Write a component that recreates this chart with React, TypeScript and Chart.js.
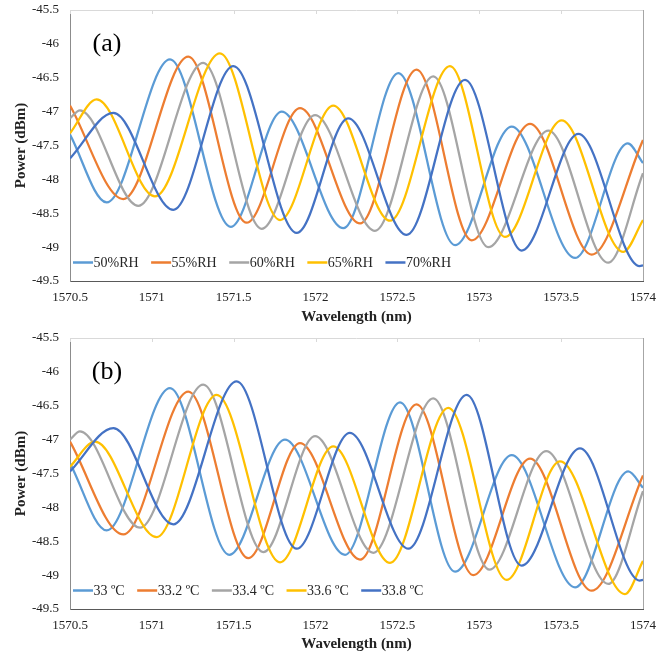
import React, { useEffect, useRef } from 'react';
import { Chart, registerables } from 'chart.js';

Chart.register(...registerables);

// ---- axes ----
const X_TICKS = [1570.5, 1571, 1571.5, 1572, 1572.5, 1573, 1573.5, 1574];
const Y_TICKS = [-45.5, -46, -46.5, -47, -47.5, -48, -48.5, -49, -49.5];

const SERIES_COLORS = ['#5B9BD5', '#ED7D31', '#A5A5A5', '#FFC000', '#4472C4'];

// ---- panel (a): humidity ----
const LABELS_A = ['50%RH', '55%RH', '60%RH', '65%RH', '70%RH'];
const RH50_X = [1570.5, 1570.724, 1571.111, 1571.482, 1571.793, 1572.17, 1572.506, 1572.852, 1573.198, 1573.585, 1573.907, 1574];
const RH50_Y = [-47.34, -48.34, -46.23, -48.7, -47.0, -48.72, -46.43, -48.97, -47.22, -49.16, -47.47, -47.76];
const RH55_X = [1570.5, 1570.826, 1571.223, 1571.579, 1571.905, 1572.272, 1572.617, 1572.954, 1573.31, 1573.687, 1574];
const RH55_Y = [-46.91, -48.29, -46.19, -48.64, -46.95, -48.65, -46.38, -48.9, -47.18, -49.11, -47.42];
const RH60_X = [1570.5, 1570.561, 1570.917, 1571.314, 1571.671, 1571.997, 1572.363, 1572.719, 1573.055, 1573.422, 1573.788, 1574];
const RH60_Y = [-47.1, -46.98, -48.39, -46.28, -48.73, -47.05, -48.76, -46.48, -49.0, -47.28, -49.23, -47.91];
const RH65_X = [1570.5, 1570.663, 1571.019, 1571.416, 1571.783, 1572.108, 1572.455, 1572.821, 1573.157, 1573.503, 1573.88, 1574];
const RH65_Y = [-47.32, -46.82, -48.25, -46.14, -48.6, -46.91, -48.61, -46.33, -48.85, -47.13, -49.07, -48.6];
const RH70_X = [1570.5, 1570.765, 1571.131, 1571.498, 1571.885, 1572.2, 1572.556, 1572.913, 1573.259, 1573.605, 1573.98, 1574];
const RH70_Y = [-47.69, -47.02, -48.45, -46.33, -48.79, -47.1, -48.82, -46.53, -49.05, -47.33, -49.28, -49.27];

// ---- panel (b): temperature ----
const LABELS_B = ['33 ºC', '33.2 ºC', '33.4 ºC', '33.6 ºC', '33.8 ºC'];
const T330_X = [1570.5, 1570.724, 1571.111, 1571.473, 1571.813, 1572.18, 1572.516, 1572.852, 1573.198, 1573.585, 1573.91, 1574];
const T330_Y = [-47.35, -48.34, -46.24, -48.7, -47.0, -48.7, -46.45, -48.95, -47.23, -49.18, -47.47, -47.71];
const T332_X = [1570.5, 1570.826, 1571.223, 1571.589, 1571.905, 1572.272, 1572.617, 1572.964, 1573.31, 1573.687, 1574];
const T332_Y = [-47.03, -48.4, -46.29, -48.75, -47.05, -48.77, -46.48, -49.0, -47.28, -49.23, -47.53];
const T334_X = [1570.5, 1570.561, 1570.928, 1571.314, 1571.681, 1571.997, 1572.353, 1572.719, 1573.062, 1573.409, 1573.788, 1574];
const T334_Y = [-47.0, -46.88, -48.3, -46.19, -48.66, -46.95, -48.67, -46.39, -48.92, -47.17, -49.13, -47.76];
const T336_X = [1570.5, 1570.653, 1571.029, 1571.396, 1571.783, 1572.108, 1572.455, 1572.811, 1573.167, 1573.493, 1573.89, 1574];
const T336_Y = [-47.4, -47.03, -48.44, -46.34, -48.81, -47.1, -48.82, -46.53, -49.07, -47.32, -49.28, -48.79];
const T338_X = [1570.5, 1570.765, 1571.131, 1571.518, 1571.885, 1572.209, 1572.567, 1572.923, 1573.259, 1573.615, 1573.98, 1574];
const T338_Y = [-47.47, -46.83, -48.25, -46.14, -48.61, -46.9, -48.61, -46.34, -48.86, -47.13, -49.08, -49.07];

const SERIES_A = [[RH50_X, RH50_Y], [RH55_X, RH55_Y], [RH60_X, RH60_Y], [RH65_X, RH65_Y], [RH70_X, RH70_Y]];
const SERIES_B = [[T330_X, T330_Y], [T332_X, T332_Y], [T334_X, T334_Y], [T336_X, T336_Y], [T338_X, T338_Y]];

const SERIF = "'Liberation Serif', 'Times New Roman', serif";

function pts(xs: number[], ys: number[]) {
  return xs.map((x, i) => ({ x, y: ys[i] }));
}

const framePlugin = {
  id: 'frame',
  beforeDatasetsDraw(chart: any) {
    const { ctx, chartArea: a, scales } = chart;
    ctx.save();
    ctx.lineWidth = 1;
    ctx.strokeStyle = '#d9d9d9';
    ctx.beginPath();
    ctx.moveTo(a.left, Math.round(a.top) + 0.5);
    ctx.lineTo(a.right, Math.round(a.top) + 0.5);
    for (const v of X_TICKS) {
      const px = Math.round(scales.x.getPixelForValue(v)) + 0.5;
      ctx.moveTo(px, a.top);
      ctx.lineTo(px, a.top + 4);
    }
    ctx.stroke();
    ctx.strokeStyle = '#a6a6a6';
    ctx.beginPath();
    ctx.moveTo(Math.round(a.right) + 0.5, a.top);
    ctx.lineTo(Math.round(a.right) + 0.5, a.bottom);
    ctx.stroke();
    ctx.restore();
  },
  afterDatasetsDraw(chart: any, _args: any, opts: any) {
    const { ctx, chartArea: a } = chart;
    ctx.save();
    // panel label
    ctx.fillStyle = '#000';
    ctx.font = `26px ${SERIF}`;
    ctx.textAlign = 'center';
    ctx.textBaseline = 'middle';
    ctx.fillText(opts.label, a.left + 37, a.top + 34);
    // legend inside plot area
    ctx.font = `14px ${SERIF}`;
    ctx.textAlign = 'left';
    let x = a.left + 3;
    const y = a.bottom - 18.5;
    const ds = chart.data.datasets;
    for (let i = 0; i < ds.length; i++) {
      ctx.strokeStyle = ds[i].borderColor;
      ctx.lineWidth = 2.5;
      ctx.beginPath();
      ctx.moveTo(x, y);
      ctx.lineTo(x + 20, y);
      ctx.stroke();
      ctx.fillStyle = '#262626';
      ctx.fillText(ds[i].label, x + 20.5, y + 0.5);
      x += 20.5 + ctx.measureText(ds[i].label).width + 12.5;
    }
    ctx.restore();
  },
};

function makeConfig(series: number[][][], labels: string[], panel: string, height: number): any {
  return {
    type: 'line',
    data: {
      datasets: series.map(([xs, ys], i) => ({
        label: labels[i],
        data: pts(xs, ys),
        borderColor: SERIES_COLORS[i],
        backgroundColor: SERIES_COLORS[i],
        borderWidth: 2.25,
        pointRadius: 0,
        fill: false,
        cubicInterpolationMode: 'monotone',
        order: series.length - i,
      })),
    },
    options: {
      responsive: false,
      animation: false,
      events: [],
      layout: { padding: { left: 0, right: 29, top: 10, bottom: 0 } },
      plugins: {
        legend: { display: false },
        tooltip: { enabled: false },
        frame: { label: panel },
      },
      scales: {
        x: {
          type: 'linear',
          min: 1570.5,
          max: 1574,
          afterBuildTicks: (s: any) => {
            s.ticks = X_TICKS.map((v) => ({ value: v }));
          },
          afterFit: (s: any) => {
            s.height = height - 281;
            s.paddingLeft = 0;
            s.paddingRight = 0;
          },
          grid: { display: false, drawTicks: false },
          border: { display: true, color: '#595959', width: 1 },
          ticks: {
            padding: 9,
            color: '#222',
            font: { family: SERIF, size: 13 },
            maxRotation: 0,
            autoSkip: false,
            callback: (v: any) => String(Math.round(Number(v) * 10) / 10),
          },
          title: {
            display: true,
            text: 'Wavelength (nm)',
            color: '#222',
            font: { family: SERIF, size: 15, weight: 'bold' },
            padding: { top: 0, bottom: 2 },
          },
        },
        y: {
          type: 'linear',
          min: -49.5,
          max: -45.5,
          afterBuildTicks: (s: any) => {
            s.ticks = Y_TICKS.map((v) => ({ value: v }));
          },
          afterFit: (s: any) => {
            s.width = 70;
            s.paddingTop = 0;
            s.paddingBottom = 0;
          },
          grid: { display: false, drawTicks: false },
          border: { display: true, color: '#8c8c8c', width: 1 },
          ticks: {
            padding: 11,
            color: '#222',
            font: { family: SERIF, size: 13 },
            autoSkip: false,
            callback: (v: any) => String(Math.round(Number(v) * 10) / 10),
          },
          title: {
            display: true,
            text: 'Power (dBm)',
            color: '#222',
            font: { family: SERIF, size: 15, weight: 'bold' },
            padding: { top: 12, bottom: 0 },
          },
        },
      },
    },
    plugins: [framePlugin],
  };
}

function Panel(props: { series: number[][][]; labels: string[]; panel: string; height: number; top: number }) {
  const ref = useRef<HTMLCanvasElement | null>(null);
  useEffect(() => {
    if (!ref.current) return;
    const chart = new Chart(ref.current, makeConfig(props.series, props.labels, props.panel, props.height));
    return () => chart.destroy();
  }, []);
  return (
    <canvas
      ref={ref}
      width={672}
      height={props.height}
      style={{ position: 'absolute', left: 0, top: props.top, width: 672, height: props.height, display: 'block' }}
    />
  );
}

export default function App() {
  return (
    <div style={{ position: 'fixed', left: 0, top: 0, width: 672, height: 655, background: '#fff', overflow: 'hidden' }}>
      <Panel series={SERIES_A} labels={LABELS_A} panel="(a)" height={328} top={0} />
      <Panel series={SERIES_B} labels={LABELS_B} panel="(b)" height={327} top={328} />
    </div>
  );
}
